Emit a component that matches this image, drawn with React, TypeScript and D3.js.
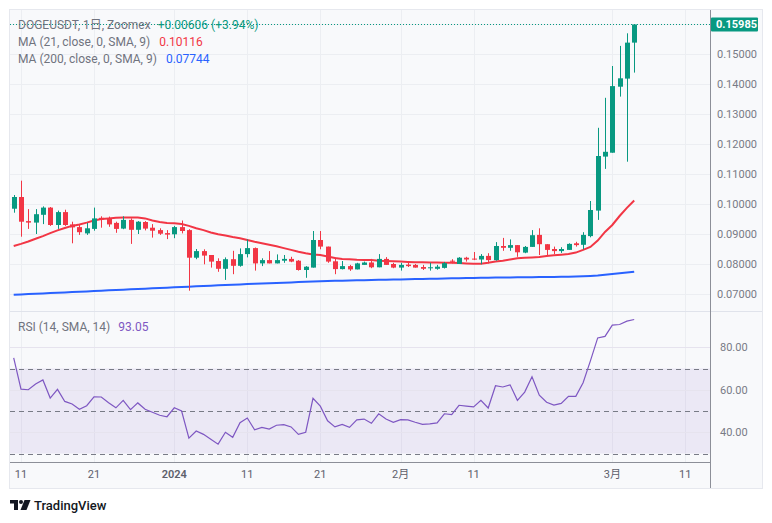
import React from "react";
import * as d3 from "d3";

const startDay = "2023-12-10";
const endDayExclusive = "2024-03-05";

const opens = [0.09843,0.10233,0.0943,0.0938,0.0964,0.0988,0.093,0.0973,0.0932,0.0923,0.0902,0.0917,0.0954,0.0952,0.0937,0.0918,0.0947,0.0914,0.094,0.0921,0.0913,0.0903,0.0899,0.0923,0.0913,0.0821,0.0843,0.083,0.081,0.0784,0.0816,0.0794,0.0833,0.0853,0.0802,0.0813,0.0802,0.0811,0.0817,0.0811,0.078,0.0788,0.088,0.0858,0.0809,0.0783,0.0793,0.0782,0.0797,0.0805,0.0789,0.0817,0.08,0.0788,0.0798,0.0797,0.079,0.0787,0.0784,0.0787,0.0811,0.08,0.0821,0.0818,0.0815,0.0827,0.0813,0.086,0.0854,0.0863,0.0838,0.0857,0.0897,0.0866,0.085,0.0843,0.0847,0.0869,0.0864,0.0893,0.0978,0.1158,0.1171,0.1391,0.1418,0.15379];
const highs = [0.103,0.10777,0.0983,0.0983,0.0992,0.099,0.0978,0.0981,0.0941,0.093,0.0937,0.0988,0.0959,0.0958,0.0941,0.0959,0.0952,0.0943,0.0943,0.0933,0.0919,0.0913,0.0927,0.0945,0.0916,0.085,0.0849,0.083,0.0819,0.0822,0.0844,0.0852,0.0882,0.0855,0.0819,0.0843,0.0832,0.083,0.0824,0.0813,0.0793,0.091,0.091,0.0858,0.0822,0.081,0.0797,0.0804,0.0808,0.0817,0.0833,0.0823,0.0804,0.0804,0.0804,0.08,0.0797,0.0804,0.0797,0.0807,0.0816,0.0823,0.0824,0.084,0.0833,0.0836,0.0873,0.0887,0.0882,0.0863,0.086,0.0913,0.0919,0.0866,0.0858,0.0856,0.0869,0.0874,0.0906,0.101,0.1254,0.1354,0.146,0.1527,0.1569,0.15985];
const lows = [0.0971,0.0891,0.0917,0.09,0.0933,0.0927,0.0917,0.0927,0.0869,0.0897,0.0897,0.0911,0.0921,0.0924,0.0904,0.0916,0.0867,0.09,0.0912,0.0888,0.0897,0.0883,0.0886,0.0902,0.0711,0.0816,0.0799,0.0788,0.0774,0.0747,0.0766,0.0791,0.0822,0.0778,0.0793,0.0802,0.0802,0.0804,0.0806,0.0778,0.0754,0.0788,0.0849,0.0804,0.0766,0.0782,0.0777,0.0782,0.0797,0.0786,0.0789,0.0797,0.0786,0.0778,0.079,0.0788,0.078,0.0778,0.0781,0.0785,0.0802,0.08,0.0808,0.0813,0.0799,0.0802,0.0811,0.0844,0.0844,0.0824,0.0836,0.0857,0.083,0.083,0.0833,0.0837,0.0847,0.0858,0.0849,0.0889,0.0947,0.1117,0.1171,0.1358,0.1141,0.1438];
const closes = [0.10233,0.0941,0.0938,0.0966,0.0988,0.093,0.0973,0.093,0.0922,0.0906,0.0919,0.0952,0.0948,0.0932,0.0917,0.0947,0.0914,0.0941,0.0918,0.0911,0.0901,0.0898,0.0923,0.091,0.0821,0.0843,0.0828,0.0808,0.0784,0.0816,0.0794,0.0833,0.0853,0.0802,0.0813,0.0802,0.0813,0.0817,0.0808,0.078,0.0791,0.088,0.0858,0.0808,0.0783,0.0793,0.0782,0.0802,0.0805,0.0789,0.0817,0.0797,0.0788,0.0797,0.0793,0.0788,0.0784,0.0789,0.0791,0.0803,0.0808,0.0821,0.0815,0.0815,0.0827,0.0813,0.086,0.0854,0.0863,0.0839,0.0857,0.0896,0.0866,0.0847,0.0843,0.085,0.0867,0.0863,0.0897,0.098,0.116,0.1174,0.1393,0.1419,0.15379,0.15985];

const ma21 = [0.086,0.0867,0.0875,0.0884,0.0893,0.0903,0.0912,0.092,0.0927,0.0932,0.0938,0.0945,0.095,0.0952,0.0954,0.0955,0.0955,0.0955,0.0952,0.0945,0.094,0.0937,0.0936,0.0933,0.0927,0.0919,0.0913,0.0905,0.0899,0.0895,0.089,0.0886,0.088,0.0874,0.0869,0.0864,0.0859,0.0853,0.0847,0.0841,0.0836,0.0832,0.083,0.0825,0.082,0.0817,0.0816,0.0814,0.0813,0.0813,0.0811,0.081,0.0809,0.0808,0.0807,0.0806,0.0806,0.0805,0.0805,0.0804,0.0804,0.0803,0.0802,0.0801,0.0801,0.0804,0.0808,0.0811,0.0815,0.0819,0.0821,0.0822,0.0823,0.0827,0.0829,0.0831,0.0833,0.0838,0.0847,0.0857,0.0878,0.0907,0.093,0.096,0.0987,0.10116];
const ma200 = [0.06973,0.06984,0.06996,0.07007,0.07018,0.0703,0.07041,0.07053,0.07064,0.07075,0.07087,0.07098,0.0711,0.07121,0.07132,0.07144,0.07155,0.07166,0.07178,0.07189,0.072,0.07212,0.07223,0.07234,0.07245,0.07256,0.07267,0.07278,0.07289,0.073,0.0731,0.0732,0.0733,0.0734,0.0735,0.0736,0.07369,0.07378,0.07387,0.07396,0.07405,0.07414,0.07423,0.07431,0.07438,0.07444,0.0745,0.07456,0.07461,0.07466,0.07471,0.07476,0.07481,0.07486,0.07491,0.07496,0.07501,0.07506,0.07511,0.07516,0.07521,0.07526,0.07531,0.07536,0.0754,0.07543,0.07546,0.07549,0.07552,0.07555,0.07558,0.07561,0.07564,0.07567,0.0757,0.07573,0.07576,0.0758,0.07588,0.076,0.07617,0.0764,0.07664,0.0769,0.07716,0.07744];
const rsi = [75,60.3,60,62.7,64.6,56.1,60.2,54.5,53.3,50.8,52.5,56.7,56.6,53.9,51.5,55,50.6,53.8,50.8,49.4,48,47.3,51.5,50,37.2,40.6,39,36.7,34.4,40,37.6,44.5,46.7,41.2,42.3,41.5,43.3,43.6,42.5,39,40,56,52.3,45.4,42.5,43.7,42.3,45.8,46.2,44.2,48.7,46.2,44.7,45.9,45.8,44.7,43.7,43.9,44.4,48.7,48.3,52.7,52.3,51.9,55,51.4,61.9,61.3,62.3,55,58.9,66.1,57.4,54.1,52.8,53.6,56.9,56.9,63.3,73.6,84.4,85.1,90.4,90.7,92.3,93.05];

const priceTicks = [0.07,0.08,0.09,0.10,0.11,0.12,0.13,0.14,0.15];
const priceGrid = [0.07,0.08,0.09,0.10,0.11,0.12,0.13,0.14,0.15,0.16];
const rsiTicks = [40,60,80];
const rsiBands = [30,50,70];
const timeTickDates = ["2023-12-11","2023-12-21","2024-01-01","2024-01-11","2024-01-21","2024-02-01","2024-02-11","2024-03-01","2024-03-11"];
const timeTickLabels = ["11","21","2024","11","21","2月","11","3月","11"];
const lastPrice = 0.15985;
const legendTitle = "DOGEUSDT, 1日, Zoomex";
const legendChange = "+0.00606 (+3.94%)";
const ma21Label = "MA (21, close, 0, SMA, 9)";
const ma200Label = "MA (200, close, 0, SMA, 9)";
const rsiLabel = "RSI (14, SMA, 14)";

const GREEN = "#089981";
const RED = "#f23645";
const BLUE = "#2962ff";
const PURPLE = "#7e57c2";
const FONT = "Roboto, 'Noto Sans CJK SC', sans-serif";

export default function App() {
  const W = 772, H = 523;
  const L = 10, R = 710, T = 10, B = 488, AX = 762;
  const paneSep = 311, timeAxisY = 462;
  const days = d3.utcDay.range(new Date(startDay + "T00:00Z"), new Date(endDayExclusive + "T00:00Z"));
  const x = d3.scaleUtc()
    .domain([new Date("2023-12-10T00:00Z"), new Date("2024-03-04T00:00Z")])
    .range([13.7, 634.2]);
  const y = d3.scaleLinear().domain([0.07, 0.15]).range([294, 54]);
  const yr = d3.scaleLinear().domain([30, 70]).range([453.5, 368.5]);

  const lineP = d3.line<number>().x((_, i) => x(days[i])).y((v) => y(v));
  const lineR = d3.line<number>().x((_, i) => x(days[i])).y((v) => yr(v));

  const tickX = timeTickDates.map((d) => x(new Date(d + "T00:00Z")));

  return (
    <svg width={W} height={H} style={{ position: "absolute", left: 0, top: 0 }} fontFamily={FONT}>
      <rect x={0} y={0} width={W} height={H} fill="#ffffff" />
      <rect x={L - 0.5} y={T - 0.5} width={AX - L + 1} height={B - T + 1} fill="#f8f9fb" stroke="#e6e8ee" />
      <defs>
        <clipPath id="pp"><rect x={L} y={T} width={R - L} height={paneSep - T} /></clipPath>
        <clipPath id="rp"><rect x={L} y={paneSep + 1} width={R - L} height={timeAxisY - paneSep - 1} /></clipPath>
      </defs>
      {tickX.map((tx, i) => (
        <line key={"vg" + i} x1={Math.round(tx) + 0.5} x2={Math.round(tx) + 0.5} y1={T} y2={timeAxisY} stroke="#eceef2" />
      ))}
      {priceGrid.map((v, i) => (
        <line key={"pg" + i} x1={L} x2={R} y1={Math.round(y(v)) + 0.5} y2={Math.round(y(v)) + 0.5} stroke="#eceef2" />
      ))}
      <line x1={L} x2={AX} y1={paneSep + 0.5} y2={paneSep + 0.5} stroke="#e0e3eb" />
      <rect x={L} y={yr(70)} width={R - L} height={yr(30) - yr(70)} fill={PURPLE} fillOpacity={0.1} />
      {rsiTicks.map((v, i) => (
        <line key={"rg" + i} x1={L} x2={R} y1={Math.round(yr(v)) + 0.5} y2={Math.round(yr(v)) + 0.5} stroke="#e6e3ee" />
      ))}
      {rsiBands.map((v, i) => (
        <line key={"rb" + i} x1={L} x2={R} y1={Math.round(yr(v)) + 0.5} y2={Math.round(yr(v)) + 0.5} stroke="#787b86" strokeDasharray="5,4" />
      ))}
      <g clipPath="url(#pp)">
        <path d={lineP(ma200) || ""} fill="none" stroke={BLUE} strokeWidth={2} />
        <path d={lineP(ma21) || ""} fill="none" stroke={RED} strokeWidth={2} />
        {days.map((d, i) => {
          const o = opens[i], c = closes[i], h = highs[i], l = lows[i];
          const col = c >= o ? GREEN : RED;
          const cx = Math.round(x(d));
          const top = y(Math.max(o, c));
          const bot = y(Math.min(o, c));
          return (
            <g key={"c" + i}>
              <line x1={cx + 0.5} x2={cx + 0.5} y1={y(h)} y2={y(l)} stroke={col} strokeWidth={1} />
              <rect x={cx - 2} y={top} width={5} height={Math.max(1, bot - top)} fill={col} />
            </g>
          );
        })}
      </g>
      <line x1={L} x2={R} y1={Math.round(y(lastPrice)) + 0.5} y2={Math.round(y(lastPrice)) + 0.5} stroke={GREEN} strokeDasharray="1,2" />
      <g clipPath="url(#rp)">
        <path d={lineR(rsi) || ""} fill="none" stroke={PURPLE} strokeWidth={1.2} />
      </g>
      <line x1={R + 0.5} x2={R + 0.5} y1={T} y2={B} stroke="#8c8f98" />
      <line x1={L} x2={R} y1={timeAxisY + 0.5} y2={timeAxisY + 0.5} stroke="#8c8f98" />
      {priceTicks.map((v, i) => (
        <text key={"pl" + i} x={717} y={y(v) + 4} fontSize={11} fill="#787b86">{v.toFixed(5)}</text>
      ))}
      <rect x={R + 1} y={y(lastPrice) - 7} width={47} height={14} fill={GREEN} rx={1} />
      <text x={716} y={y(lastPrice) + 4} fontSize={11} fill="#ffffff" fontWeight={700}>{lastPrice.toFixed(5)}</text>
      {rsiTicks.map((v, i) => (
        <text key={"rl" + i} x={720} y={yr(v) + 4} fontSize={11} fill="#787b86">{v.toFixed(2)}</text>
      ))}
      {tickX.map((tx, i) => (
        <text key={"tl" + i} x={tx} y={478} fontSize={11} textAnchor="middle" fill="#5d606b"
          fontWeight={timeTickLabels[i] === "2024" ? 600 : 400}>{timeTickLabels[i]}</text>
      ))}
      <text x={18} y={29.3} fontSize={12} fill="#70737e">
        {legendTitle}
        <tspan dx={7} fill={GREEN}>{legendChange}</tspan>
      </text>
      <text x={18} y={46.1} fontSize={12} fill="#70737e">
        {ma21Label}
        <tspan dx={9} fill={RED}>{ma21[ma21.length - 1].toFixed(5)}</tspan>
      </text>
      <text x={18} y={62.8} fontSize={12} fill="#70737e">
        {ma200Label}
        <tspan dx={9} fill={BLUE}>{ma200[ma200.length - 1].toFixed(5)}</tspan>
      </text>
      <text x={18} y={331} fontSize={12} fill="#70737e">
        {rsiLabel}
        <tspan dx={8} fill={PURPLE}>{rsi[rsi.length - 1].toFixed(2)}</tspan>
      </text>
      <g fill="#131722">
        <path d="M10,500 H18 V510 H14 V503.5 H10 Z" />
        <circle cx={21} cy={502} r={2} />
        <path d="M24.5,500 H30.5 L26.5,510 H20.5 Z" />
      </g>
      <text x={34} y={510} fontSize={13} fontWeight={500} fill="#131722">TradingView</text>
    </svg>
  );
}
